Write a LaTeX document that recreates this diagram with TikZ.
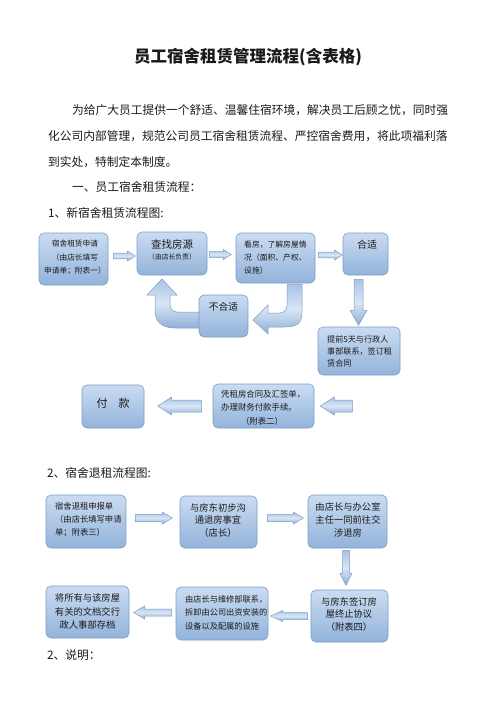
\documentclass[tikz,border=0pt]{standalone}
\usepackage{fontspec}
\setmainfont{Noto Sans CJK SC}
\usetikzlibrary{calc}
\definecolor{boxtop}{HTML}{CADCF2}
\definecolor{boxbot}{HTML}{93B3DA}
\definecolor{bordc}{HTML}{7B9DC7}
\definecolor{arrtop}{HTML}{A9C3E6}
\definecolor{arrmid}{HTML}{D8E5F5}
\definecolor{arrbot}{HTML}{8FAFD8}
\definecolor{txtc}{HTML}{1A1A1A}
\newcommand\fs[2]{\fontsize{#1}{#2}\selectfont}
\newcommand\barr[6]{\draw[barrow, shift={#1}, rotate=#2] (0,-#4) -- ({#3-#6},-#4) -- ({#3-#6},-#5) -- (#3,0) -- ({#3-#6},#5) -- ({#3-#6},#4) -- (0,#4) -- cycle;}
\begin{document}
\begin{tikzpicture}[x=1pt,y=-1pt,
  box/.style={draw=bordc, line width=0.6pt, rounded corners=5pt, top color=boxtop, bottom color=boxbot, inner sep=0pt},
  barrow/.style={draw=bordc, line width=0.5pt, top color=arrtop, bottom color=arrbot, middle color=arrmid},
  txt/.style={inner sep=0pt, text=txtc},
  body/.style={inner sep=0pt, anchor=west, font=\fs{11.75}{14}, text=txtc}]
\useasboundingbox[fill=white] (0,0) rectangle (496,702);

% title and text
\node[txt, font=\fs{16.5}{18}\bfseries] (title) at (248,57) {员工宿舍租赁管理流程(含表格)};
\node[body] (p1) at (72,110) {为给广大员工提供一个舒适、温馨住宿环境，解决员工后顾之忧，同时强};
\node[body] (p2) at (48,136) {化公司内部管理，规范公司员工宿舍租赁流程、严控宿舍费用，将此项福利落};
\node[body] (p3) at (48,162) {到实处，特制定本制度。};
\node[body] (h1) at (72,187) {一、员工宿舍租赁流程：};
\node[body] (h2) at (48,213) {1、新宿舍租赁流程图:};
\node[body] (h3) at (47,473) {2、宿舍退租流程图:};
\node[body] (h4) at (47,655) {2、说明：};

% curved arrows (drawn under boxes)
\draw[barrow] (302,284) -- (302,312) .. controls (302,324) and (296,327) .. (285,327) -- (268,327) -- (268,334) -- (253,320) -- (268,305) -- (268,313) -- (279,313) .. controls (284,313) and (287,310) .. (287,305) -- (287,284) -- cycle;
\draw[barrow] (200,312) -- (177,312) .. controls (172,312) and (170,308) .. (170,304) -- (170,295) -- (177,295) -- (162,279) -- (147,295) -- (155,295) -- (155,310) .. controls (155,322) and (162,328) .. (175,328) -- (200,328) -- cycle;

% flowchart 1 boxes
\node[box, minimum width=69pt, minimum height=52pt] (A) at (73.5,259) {};
\node[box, minimum width=70pt, minimum height=43pt] (B) at (172,253.5) {};
\node[box, minimum width=79pt, minimum height=50pt] (C) at (275.5,258) {};
\node[box, minimum width=45pt, minimum height=42pt] (D) at (365.5,254) {};
\node[box, minimum width=49pt, minimum height=42pt] (N) at (223.5,316) {};
\node[box, minimum width=82pt, minimum height=48pt] (P) at (359,351) {};
\node[box, minimum width=101pt, minimum height=44pt] (Q) at (263.5,406) {};
\node[box, minimum width=62pt, minimum height=43pt] (R) at (113,406.5) {};

\node[txt, align=center, font=\fs{7.7}{13.3}] (Atx) at (75,257.5) {宿舍租赁申请\\（由店长填写\\申请单；附表一）};
\node[txt, font=\fs{10.5}{12}] (Btx1) at (172,244) {查找房源};
\node[txt, font=\fs{6.8}{8}] (Btx2) at (172,257) {（由店长负责）};
\node[txt, align=left, anchor=west, font=\fs{7.8}{13}] (Ctx) at (244,258) {看房，了解房屋情\\况（面积、产权、\\设施）};
\node[txt, font=\fs{10}{12}] (Dtx) at (367,245) {合适};
\node[txt, font=\fs{9.7}{12}] (Ntx) at (223.5,307) {不合适};
\node[txt, align=left, anchor=west, font=\fs{8.1}{12}] (Ptx) at (327,351) {提前5天与行政人\\事部联系，签订租\\赁合同};
\node[txt, align=left, anchor=west, font=\fs{8.4}{13}] (Qtx) at (221,400.5) {凭租房合同及汇签单，\\办理财务付款手续。};
\node[txt, font=\fs{8.4}{10}] (Qtx2) at (262,421) {（附表二）};
\node[txt, font=\fs{11}{13}] (Rtx) at (113,403) {付\quad 款};

% flowchart 1 arrows
\barr{($(A.east)+(5,-3)$)}{0}{22}{2.8}{5}{8}
\barr{($(B.east)+(2,1)$)}{0}{22}{2.8}{5}{8}
\barr{($(C.east)+(3,-3)$)}{0}{24}{2.8}{5}{8}
\barr{($(D.south)+(-7,4)$)}{-90}{46}{4.5}{8.5}{15}
\barr{($(Q.east)+(38,0)$)}{180}{32}{6}{9}{14}
\barr{($(Q.west)+(-11,0)$)}{180}{44}{6}{9}{14}

% flowchart 2 boxes
\node[box, minimum width=80pt, minimum height=53pt] (E) at (86,521.5) {};
\node[box, minimum width=77pt, minimum height=52pt] (F) at (218.5,522) {};
\node[box, minimum width=79pt, minimum height=53pt] (G) at (347.5,521.5) {};
\node[box, minimum width=77pt, minimum height=52pt] (H) at (349.5,616) {};
\node[box, minimum width=92pt, minimum height=53pt] (I) at (222,613.5) {};
\node[box, minimum width=83pt, minimum height=52pt] (J) at (87.5,612) {};

\node[txt, align=left, anchor=west, font=\fs{8.3}{13}] (Etx) at (55,520) {宿舍退租申报单\\（由店长填写申请\\单；附表三）};
\node[txt, align=center, font=\fs{9.3}{12.5}] (Ftx) at (218,520.5) {与房东初步沟\\通退房事宜\\（店长）};
\node[txt, align=center, font=\fs{9.3}{13}] (Gtx) at (348,520) {由店长与办公室\\主任一同前往交\\涉退房};
\node[txt, align=center, font=\fs{9.3}{12.5}] (Htx) at (349,614.5) {与房东签订房\\屋终止协议\\（附表四）};
\node[txt, align=left, anchor=west, font=\fs{8.2}{13.5}] (Itx) at (185,612.5) {由店长与维修部联系，\\拆卸由公司出资安装的\\设备以及配属的设施};
\node[txt, align=center, font=\fs{9.3}{13.5}] (Jtx) at (87.5,611.5) {将所有与该房屋\\有关的文档交行\\政人事部存档};

% flowchart 2 arrows
\barr{($(E.east)+(9,-3.5)$)}{0}{37}{3.5}{6}{10}
\barr{($(F.east)+(10,-4)$)}{0}{36}{3.5}{6}{10}
\barr{($(G.south)+(-1.5,2)$)}{-90}{35}{3.5}{6}{12}
\barr{($(H.west)+(-3,0)$)}{180}{37}{3.5}{5.5}{12}
\barr{($(I.west)+(-4,-1)$)}{180}{38}{3.5}{6.5}{11}
\end{tikzpicture}
\end{document}
